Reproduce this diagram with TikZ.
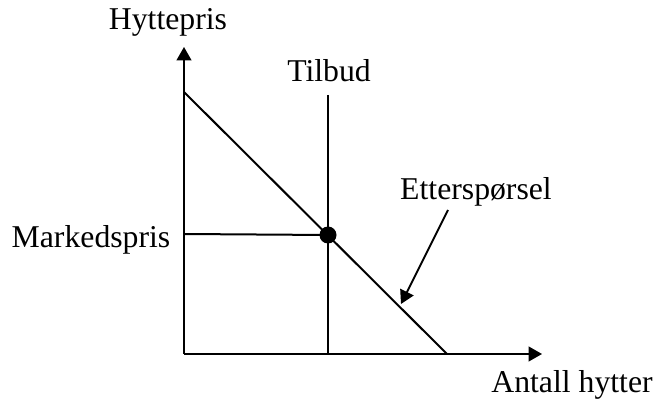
\documentclass[tikz,border=0pt]{standalone}
\usepackage{fontspec}
\setmainfont{Liberation Serif}
\usetikzlibrary{arrows.meta}
\begin{document}
\begin{tikzpicture}[x=0.75pt,y=-0.75pt,
  line/.style={line width=1.5pt},
  axis/.style={line width=1.5pt,-{Triangle[length=10pt,width=11pt]}},
  lbl/.style={font=\fontsize{23.8}{28}\selectfont,inner sep=0pt,anchor=base}]
\useasboundingbox (0,0) rectangle (657,402);
% coordinates
\coordinate (O) at (184,354);
\coordinate (ytip) at (184,47);
\coordinate (xtip) at (542,354);
\coordinate (D1) at (184,92);
\coordinate (D2) at (447,354);
\coordinate (S1) at (328,95);
\coordinate (S2) at (328,354);
\coordinate (P) at (184,234);
\coordinate (E) at (328,235);
\coordinate (Astart) at (448,210);
\coordinate (Aend) at (401,304);
% labels
\node[lbl] (hp) at (168,30) {Hyttepris};
\node[lbl] (mp) at (91,248) {Markedspris};
\node[lbl] (ah) at (572,393) {Antall hytter};
\node[lbl] (tb) at (329,82) {Tilbud};
\node[lbl] (ep) at (476,200) {Etterspørsel};
% axes
\draw[axis] (O) -- (ytip);
\draw[axis] (O) -- (xtip);
% curves
\draw[line] (D1) -- (D2);
\draw[line] (S1) -- (S2);
\draw[line] (P) -- (E);
\fill (E) circle[radius=8.5];
% pointer
\draw[axis] (Astart) -- (Aend);
\end{tikzpicture}
\end{document}
